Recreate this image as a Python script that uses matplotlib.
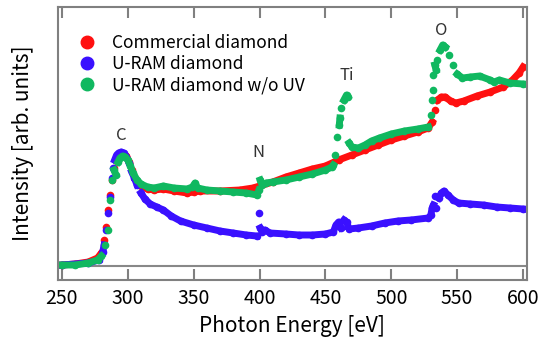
import matplotlib
matplotlib.use("Agg")
import numpy as np
import matplotlib.pyplot as plt
from matplotlib.lines import Line2D

plt.rcParams['font.family'] = ['Noto Sans CJK JP', 'DejaVu Sans']

# Photon energy (eV) and intensity (arb. units)
commercial_ev = [250, 260, 270, 277, 280, 282, 283.5, 285, 286.5, 288, 289.5, 291, 293, 295,
                 297, 299, 301, 303, 306, 310, 315, 320, 327, 335, 345, 350, 355, 370, 385,
                 395, 400, 410, 420, 430, 440, 450, 460, 470, 480, 490, 500, 510, 520, 528,
                 531, 533, 535, 538, 541, 545, 549, 555, 565, 575, 585, 592, 597, 600]
commercial_int = [1, 2, 4, 8, 13, 26, 39, 56, 71, 86, 98, 106, 110, 112,
                  112, 110, 104, 96, 86, 80, 77, 76, 77, 75, 73, 74, 75, 75, 76,
                  78, 80, 84, 89, 93, 97, 100, 106, 111, 116, 121, 126, 130, 134, 138,
                  144, 156, 166, 169, 169, 165, 163, 165, 170, 174, 179, 186, 193, 199]

uram_ev = [250, 270, 278, 281, 282, 283.5, 285, 286.5, 288, 289, 290, 291.5, 293, 295, 297,
           299, 301, 303, 305, 307, 310, 313, 317, 322, 327, 333, 340, 350, 360, 370, 380,
           390, 398, 399.5, 400.5, 402, 404, 408, 420, 430, 440, 450, 456, 458, 460, 462,
           464, 466, 468, 475, 485, 495, 505, 515, 528, 530, 531, 532, 533, 534, 536, 538,
           540, 543, 547, 551, 560, 570, 580, 590, 600]
uram_int = [1, 3, 6, 14, 21, 36, 53, 69, 88, 98, 106, 111, 113, 114, 113,
            109, 103, 94, 88, 81, 73, 67, 62, 59, 56, 50, 45, 41, 38, 35, 33,
            31, 30, 53, 38, 34, 36, 33, 32, 31, 31, 32, 34, 41, 44, 38,
            46, 44, 37, 38, 40, 43, 45, 46, 48, 51, 58, 61, 70, 58, 68, 73,
            75, 71, 66, 63, 62, 61, 59, 58, 57]

nouv_ev = [250, 260, 270, 277, 280, 283, 285, 286.5, 288, 289.5, 291, 292.5, 294, 296, 298,
           300, 302, 304, 307, 310, 315, 320, 327, 335, 345, 349, 351, 353, 360, 370, 380,
           390, 398, 399.5, 400.5, 402, 405, 410, 420, 430, 440, 450, 455, 456, 457, 459,
           460.5, 461, 462, 464, 466, 467, 468, 470, 475, 480, 485, 491, 500, 510, 520, 528,
           530, 531, 531.5, 532, 533, 534, 535, 537, 539, 541, 544, 547, 550, 554, 560, 567,
           575, 578, 582, 590, 600]
nouv_int = [1, 1, 3, 6, 10, 21, 36, 66, 86, 96, 91, 104, 108, 110, 109,
            106, 100, 93, 86, 82, 79, 78, 80, 78, 77, 79, 83, 78, 76, 75, 74,
            73, 71, 76, 86, 81, 83, 84, 86, 89, 92, 96, 99, 101, 111, 129,
            141, 148, 158, 166, 171, 169, 123, 119, 118, 121, 125, 128, 132, 135, 137, 139,
            151, 166, 176, 191, 201, 196, 206, 216, 221, 219, 211, 201, 192, 188, 189, 190,
            186, 184, 186, 183, 182]

labels = ['Commercial diamond', 'U-RAM diamond', 'U-RAM diamond w/o UV']
colors = ['#ff1010', '#3a10ff', '#10b860']

# edge labels: (text, energy, intensity)
edges = [('C', 295, 131), ('N', 399, 114), ('Ti', 466, 191), ('O', 538, 236)]

fig = plt.figure(figsize=(5.48, 3.42), dpi=100)
ax = fig.add_axes([0.1058, 0.1813, 0.8559, 0.7982])

series = [(commercial_ev, commercial_int), (uram_ev, uram_int), (nouv_ev, nouv_int)]
for (x, y), c in zip(series, colors):
    x = np.asarray(x, float)
    y = np.asarray(y, float)
    # dense parts drawn as a thick band, steep edges left as separate dots
    xs, ys = [], []
    for i in range(len(x)):
        xs.append(x[i])
        ys.append(y[i])
        if i < len(x) - 1 and abs(y[i + 1] - y[i]) > 7:
            xs.append(np.nan)
            ys.append(np.nan)
    ax.plot(xs, ys, '-', color=c, lw=5)
    ax.plot(x, y, 'o', color=c, ms=5.5, mec='none')

for txt, ex, ey in edges:
    ax.text(ex, ey, txt, ha='center', va='center', fontsize=12, color='#333333')

ax.axhline(0, color='#888888', lw=1.5, zorder=0.5)

ax.set_xlim(247, 603)
ax.set_ylim(-14, 259)
ax.set_xticks(range(250, 601, 50))
ax.set_yticks([])
ax.tick_params(axis='x', direction='in', length=8, width=1.5, color='#808080',
               top=True, labelsize=14, pad=6)
for s in ax.spines.values():
    s.set_color('#808080')
    s.set_linewidth(1.5)

ax.set_xlabel('Photon Energy [eV]', fontsize=15, labelpad=4)
ax.set_ylabel('Intensity [arb. units]', fontsize=15, labelpad=17)

handles = [Line2D([], [], marker='o', ls='none', color=c, ms=9) for c in colors]
ax.legend(handles, labels, loc='upper left', bbox_to_anchor=(0.024, 0.926), frameon=False,
          fontsize=12.5, handletextpad=0.85, labelspacing=0.17, borderaxespad=0,
          handlelength=1.2)

fig.savefig('out.png', dpi=100)
